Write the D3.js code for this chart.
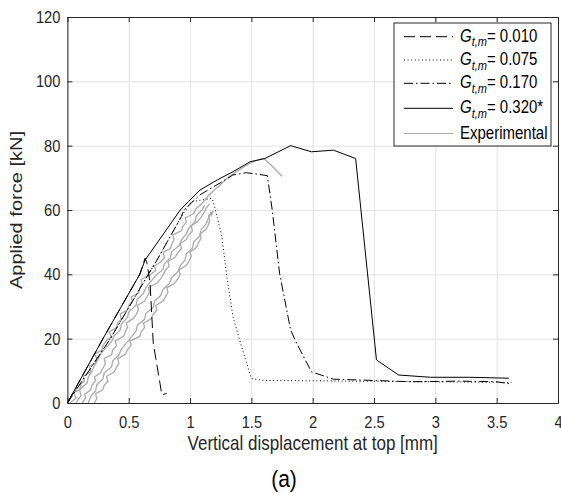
<!DOCTYPE html>
<html><head><meta charset="utf-8">
<script src="https://cdn.jsdelivr.net/npm/d3@7"></script>
<style>
body{margin:0;background:#fff;}
svg{display:block;font-family:"Liberation Sans",Arial,Helvetica,sans-serif;}
</style></head>
<body><svg id="c" width="561" height="495"></svg>
<script>
// ---- data (displacement [mm], force [kN]) ----
const xTicks = [0,0.5,1,1.5,2,2.5,3,3.5,4];
const yTicks = [0,20,40,60,80,100,120];
const xTickLabels = ["0","0.5","1","1.5","2","2.5","3","3.5","4"];
const yTickLabels = ["0","20","40","60","80","100","120"];

const g010 = [[0,0],[0.29,20],[0.59,40],[0.633,45],[0.65,43.4],[0.674,37.2],[0.70,18.6],[0.755,6.1],[0.77,2.5],[0.81,3.0]];
const g075 = [[0,0],[0.35,20],[0.66,40],[0.73,44.4],[0.93,58],[1.01,62.6],[1.18,63.6],[1.20,61],[1.26,51.7],[1.30,39.3],[1.35,26.8],[1.42,17.5],[1.50,7.6],[1.60,7.0],[2.0,6.9],[3.0,6.6],[3.62,6.4]];
const g170 = [[0,0],[0.35,20],[0.66,40],[0.73,44.4],[0.93,58],[0.95,60],[1.08,64.7],[1.245,68.4],[1.35,70.9],[1.46,71.6],[1.63,70.7],[1.67,60],[1.73,40.3],[1.82,22.7],[1.87,18.5],[1.99,9.7],[2.17,7.4],[2.5,7.0],[2.8,6.6],[3.2,6.8],[3.5,6.6],[3.6,6.0]];
const g320 = [[0,0],[0.29,20],[0.59,40],[0.633,44.4],[0.92,60],[0.986,62.6],[1.08,66.2],[1.22,69.3],[1.35,71.9],[1.49,75],[1.61,76],[1.82,80],[1.99,78.1],[2.17,78.6],[2.35,76],[2.52,13.4],[2.70,8.7],[2.96,8.0],[3.28,8.0],[3.60,7.7]];

const expA = [[0.02,0],[0.07,1.5],[0.05,3.2],[0.10,4.1],[0.11,5.9],[0.14,6.8],[0.13,8.4],[0.19,9.7],[0.18,11.5],[0.23,12.3],[0.24,13.9],[0.22,15.2],[0.28,16.4],[0.29,17.8],[0.32,19.5],[0.36,20.6],[0.34,22.1],[0.40,23.4],[0.41,24.9],[0.44,26.0],[0.43,27.7],[0.49,28.9],[0.50,30.3],[0.53,31.6],[0.52,33.0],[0.58,34.2],[0.59,35.8],[0.61,36.9],[0.60,38.4],[0.67,39.7],[0.72,41.2],[0.71,42.5],[0.76,43.9],[0.79,45.1],[0.78,46.8],[0.84,48.0],[0.85,49.3],[0.87,50.9],[0.86,52.2],[0.93,53.6],[0.94,54.8],[0.97,56.3],[0.96,57.5],[1.03,58.9],[1.05,60.4],[1.09,61.8],[1.12,63.0],[1.15,64.5],[1.19,66.0],[1.23,67.2],[1.27,68.8],[1.31,70.1],[1.36,71.5],[1.41,72.7],[1.46,73.9],[1.50,74.8],[1.55,75.5],[1.60,76.1],[1.67,73.6],[1.75,70.5]];
const expB = [[0.12,0],[0.15,1.6],[0.14,2.7],[0.19,4.0],[0.20,5.6],[0.23,6.9],[0.22,8.1],[0.27,9.4],[0.29,10.9],[0.31,12.2],[0.30,13.8],[0.36,15.0],[0.37,16.5],[0.40,17.7],[0.39,19.3],[0.46,20.8],[0.47,22.0],[0.49,23.6],[0.48,24.9],[0.54,26.3],[0.56,27.5],[0.58,29.0],[0.57,30.4],[0.63,31.7],[0.65,33.1],[0.67,34.4],[0.66,35.9],[0.73,37.2],[0.76,38.6],[0.78,39.8],[0.80,41.3],[0.83,42.6],[0.82,44.0],[0.88,45.4],[0.90,46.7],[0.93,48.1],[0.92,49.5],[0.97,50.8],[0.99,52.3],[1.02,53.5],[1.01,55.0],[1.06,56.4],[1.09,57.7],[1.11,59.0],[1.13,60.5],[1.16,62.0]];
const expC = [[0.22,0],[0.24,1.4],[0.23,2.9],[0.29,4.2],[0.30,5.5],[0.33,6.8],[0.32,8.3],[0.38,9.6],[0.40,11.0],[0.42,12.4],[0.41,13.8],[0.47,15.1],[0.49,16.6],[0.52,17.9],[0.51,19.3],[0.59,20.7],[0.60,22.0],[0.63,23.5],[0.62,24.8],[0.68,26.1],[0.70,27.6],[0.73,28.9],[0.72,30.3],[0.78,31.7],[0.80,33.0],[0.82,34.5],[0.81,35.8],[0.87,37.1],[0.90,38.6],[0.92,40.0],[0.91,41.4],[0.97,42.8],[0.99,44.1],[1.01,45.6],[1.00,46.9],[1.05,48.3],[1.07,49.8],[1.09,51.2],[1.08,52.5],[1.13,54.0],[1.15,55.4],[1.16,56.8],[1.15,58.2],[1.19,59.6],[1.17,58.0]];
const expD = [[0.07,0],[0.11,2.3],[0.10,4.1],[0.16,6.2],[0.17,8.0],[0.20,9.9],[0.22,11.6],[0.25,13.5],[0.27,15.3],[0.31,17.0],[0.36,19.1],[0.38,20.8],[0.43,22.7],[0.44,24.5],[0.49,26.6],[0.50,28.3],[0.56,30.4],[0.57,32.2],[0.62,34.1],[0.64,35.9],[0.68,37.8],[0.72,39.6],[0.78,41.5],[0.79,43.3],[0.84,45.2],[0.85,47.0],[0.91,48.9],[0.93,50.7],[0.97,52.6],[0.99,54.4],[1.04,56.3],[1.05,58.1],[1.10,60.2],[1.12,61.5]];
const expE = [[0.17,0],[0.19,2.0],[0.23,3.8],[0.24,5.7],[0.29,7.5],[0.30,9.4],[0.36,11.2],[0.37,13.1],[0.42,14.9],[0.44,16.8],[0.48,18.6],[0.52,20.5],[0.56,22.3],[0.57,24.2],[0.63,26.0],[0.64,27.9],[0.70,29.7],[0.71,31.6],[0.76,33.4],[0.78,35.3],[0.83,37.1],[0.85,39.0],[0.90,40.8],[0.92,42.7],[0.96,44.5],[0.97,46.4],[1.02,48.2],[1.03,50.1],[1.08,51.9],[1.09,53.8],[1.13,55.6],[1.15,57.5],[1.17,59.4]];

const legendLabels = ["0.010","0.075","0.170","0.320*","Experimental"];

// ---- layout ----
const L = 67.4, R = 558, T = 17, B = 403;
const SY = 1.18; // vertical text stretch of the reference
const svg = d3.select("#c");
const x = d3.scaleLinear().domain([0,4]).range([L,R]);
const y = d3.scaleLinear().domain([0,120]).range([B,T]);
const axisCol = "#262626";

// grid
svg.append("g").attr("transform",`translate(0,${B})`)
  .call(d3.axisBottom(x).tickValues(xTicks).tickSize(-(B-T)).tickFormat(""))
  .call(g=>{g.select(".domain").remove(); g.selectAll("line").attr("stroke","#e3e3e3");});
svg.append("g").attr("transform",`translate(${L},0)`)
  .call(d3.axisLeft(y).tickValues(yTicks).tickSize(-(R-L)).tickFormat(""))
  .call(g=>{g.select(".domain").remove(); g.selectAll("line").attr("stroke","#e3e3e3");});

// clip
svg.append("clipPath").attr("id","clip").append("rect").attr("x",L).attr("y",T).attr("width",R-L).attr("height",B-T);
const plot = svg.append("g").attr("clip-path","url(#clip)");
const line = d3.line().x(d=>x(d[0])).y(d=>y(d[1]));

[expA,expB,expC,expD,expE].forEach(s=>{
  plot.append("path").attr("d",line(s)).attr("fill","none").attr("stroke","#ababab").attr("stroke-width",1.3);
});
const styles = [
  {data:g010,dash:"11,5"},
  {data:g075,dash:"1,2.6"},
  {data:g170,dash:"9,3,1.5,3"},
  {data:g320,dash:null}
];
styles.forEach(s=>{
  plot.append("path").attr("d",line(s.data)).attr("fill","none").attr("stroke","#000")
    .attr("stroke-width",1).attr("stroke-dasharray",s.dash);
});

// axes box with inward ticks
function styleAxis(g){ g.select(".domain").attr("stroke",axisCol); g.selectAll("line").attr("stroke",axisCol);
  g.selectAll("text").attr("fill",axisCol).attr("font-size",14.7).attr("font-family","Liberation Sans, Arial, sans-serif"); }
svg.append("g").attr("transform",`translate(0,${B})`)
  .call(d3.axisBottom(x).tickValues(xTicks).tickSizeInner(-5).tickSizeOuter(0).tickPadding(11).tickFormat((d,i)=>xTickLabels[i]))
  .call(styleAxis).call(g=>g.selectAll("text").attr("transform",`scale(1,${SY})`));
svg.append("g").attr("transform",`translate(0,${T})`)
  .call(d3.axisTop(x).tickValues(xTicks).tickSizeInner(-5).tickSizeOuter(0).tickFormat(""))
  .call(styleAxis);
svg.append("g").attr("transform",`translate(${L},0)`)
  .call(d3.axisLeft(y).tickValues(yTicks).tickSizeInner(-5).tickSizeOuter(0).tickPadding(7).tickFormat((d,i)=>yTickLabels[i]))
  .call(styleAxis).call(g=>g.selectAll("text").attr("transform",`scale(1,${SY})`));
svg.append("g").attr("transform",`translate(${R},0)`)
  .call(d3.axisRight(y).tickValues(yTicks).tickSizeInner(-5).tickSizeOuter(0).tickFormat(""))
  .call(styleAxis);

// axis labels
svg.append("text").attr("transform",`translate(${(L+R)/2},450) scale(1,${SY})`)
  .attr("text-anchor","middle").attr("font-size",17).attr("fill",axisCol).text("Vertical displacement at top [mm]");
svg.append("text").attr("transform",`translate(21.5,${(T+B)/2}) scale(1,${SY}) rotate(-90)`)
  .attr("text-anchor","middle").attr("font-size",17).attr("fill",axisCol).text("Applied force [kN]");
svg.append("text").attr("transform",`translate(284,487) scale(1,${SY})`)
  .attr("text-anchor","middle").attr("font-size",21).attr("fill","#000").text("(a)");

// legend
const lg = svg.append("g");
lg.append("rect").attr("x",394).attr("y",23).attr("width",157).attr("height",123)
  .attr("fill","#fff").attr("stroke",axisCol).attr("stroke-width",1);
const rowY = [36.7,60,83.3,108.3,133.5];
const legStyles = [{dash:"11,5",col:"#000"},{dash:"1,2.6",col:"#000"},{dash:"9,3,1.5,3",col:"#000"},{dash:null,col:"#000"},{dash:null,col:"#ababab"}];
legendLabels.forEach((lab,i)=>{
  lg.append("line").attr("x1",404).attr("x2",453).attr("y1",rowY[i]).attr("y2",rowY[i])
    .attr("stroke",legStyles[i].col).attr("stroke-width",1).attr("stroke-dasharray",legStyles[i].dash);
  const t = lg.append("text").attr("transform",`translate(460,${rowY[i]+5}) scale(1,${SY})`)
    .attr("font-size",15).attr("fill","#000");
  if(i<4){
    t.append("tspan").attr("font-style","italic").text("G");
    t.append("tspan").attr("font-style","italic").attr("font-size",11).attr("dy",4).text("t,m");
    t.append("tspan").attr("dy",-4).text("= "+lab);
  } else {
    t.text(lab);
  }
});
</script></body></html>
